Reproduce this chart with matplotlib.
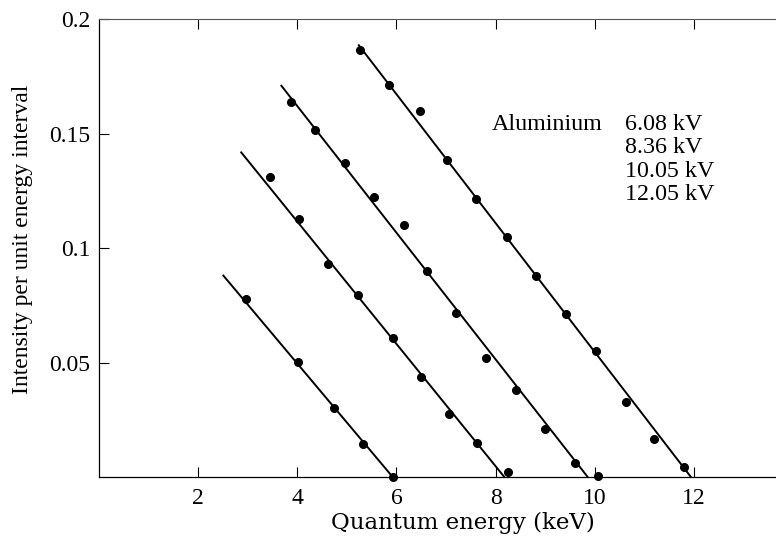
import matplotlib
matplotlib.use("Agg")
import matplotlib.pyplot as plt
import numpy as np

plt.rcParams['font.family'] = ['Liberation Serif', 'DejaVu Serif']

# Measured points (keV, intensity) for each tube voltage
x_608 = [2.97, 4.02, 4.75, 5.33, 5.93]
y_608 = [0.0779, 0.0505, 0.0304, 0.0144, 0.0]

x_836 = [3.46, 4.04, 4.62, 5.23, 5.93, 6.49, 7.06, 7.63, 8.25]
y_836 = [0.1313, 0.1127, 0.0931, 0.0796, 0.0610, 0.0439, 0.0276, 0.0151, 0.0025]

x_1005 = [3.87, 4.36, 4.96, 5.55, 6.15, 6.62, 7.21, 7.80, 8.41, 9.00, 9.59, 10.06]
y_1005 = [0.1638, 0.1517, 0.1371, 0.1225, 0.1102, 0.0902, 0.0716, 0.0520, 0.0381, 0.0210, 0.0061, 0.0006]

x_1205 = [5.26, 5.85, 6.47, 7.01, 7.61, 8.22, 8.81, 9.41, 10.02, 10.62, 11.20, 11.79]
y_1205 = [0.1866, 0.1713, 0.1600, 0.1386, 0.1215, 0.1048, 0.0879, 0.0713, 0.0553, 0.0330, 0.0167, 0.0046]

# Fitted straight lines: (start x, start y) -> (end x, 0)
fit_x = [[2.50, 5.93], [2.86, 8.18], [3.67, 9.86], [5.23, 11.94]]
fit_y = [[0.0884, 0.0], [0.1422, 0.0], [0.1713, 0.0], [0.1890, 0.0]]

voltages = ["6.08 kV", "8.36 kV", "10.05 kV", "12.05 kV"]
x_ticks = [2, 4, 6, 8, 10, 12]
y_ticks = [0.05, 0.1, 0.15, 0.2]
y_tick_labels = ["0.05", "0.1", "0.15", "0.2"]

fig = plt.figure(figsize=(7.76, 5.40), dpi=100)
ax = fig.add_axes([0.1272, 0.1161, 0.8728, 0.8482])

for xs, ys in zip(fit_x, fit_y):
    ax.plot(xs, ys, color='black', lw=1.4, solid_capstyle='butt')
for xs, ys in [(x_608, y_608), (x_836, y_836), (x_1005, y_1005), (x_1205, y_1205)]:
    ax.plot(xs, ys, 'o', color='black', ms=5.5, clip_on=False, zorder=3)

ax.set_xlim(0, 13.65)
ax.set_ylim(0, 0.2)
ax.set_xticks(x_ticks)
ax.set_xticklabels([str(t) for t in x_ticks])
ax.set_yticks(y_ticks)
ax.set_yticklabels(y_tick_labels)
ax.tick_params(axis='both', direction='in', length=7, width=0.8, labelsize=17, top=True)
ax.tick_params(axis='x', pad=8)
ax.tick_params(axis='y', pad=6)

ax.spines['right'].set_visible(False)
ax.spines['top'].set_color('#555555')
ax.spines['top'].set_linewidth(0.8)
ax.spines['left'].set_linewidth(0.9)
ax.spines['bottom'].set_linewidth(0.9)

ax.set_xlabel("Quantum energy (keV)", fontsize=16.5, family=['DejaVu Serif'])
ax.xaxis.set_label_coords(0.538, -0.076)
ax.set_ylabel("Intensity per unit energy interval", fontsize=17)
ax.yaxis.set_label_coords(-0.097, 0.52)

ax.text(7.93, 0.154, "Aluminium", fontsize=17.3, va='center', ha='left')
for i, v in enumerate(voltages):
    ax.text(10.6, 0.154 - i * 0.0102, v, fontsize=17.3, va='center', ha='left')

fig.savefig("out.png", dpi=100)
